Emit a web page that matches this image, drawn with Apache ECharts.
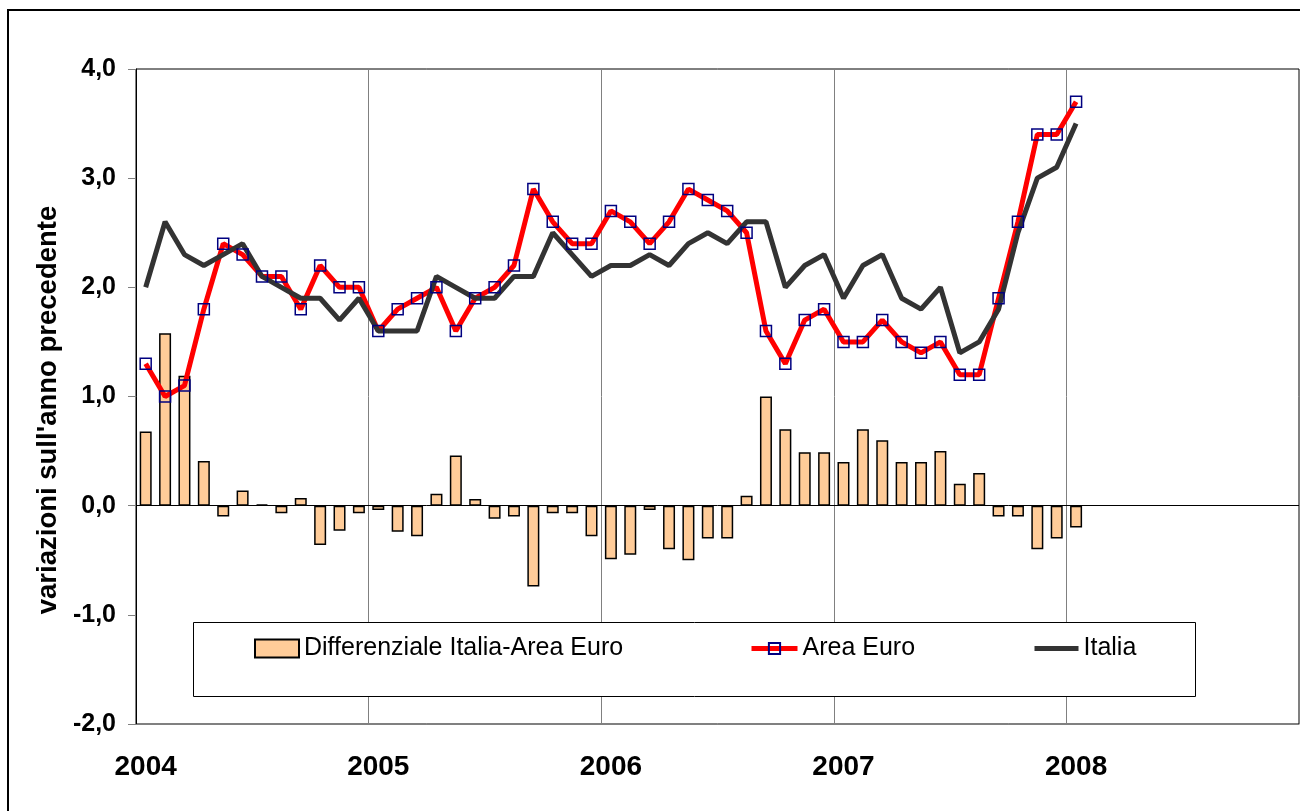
<!DOCTYPE html>
<html>
<head>
<meta charset="utf-8">
<script src="https://cdn.jsdelivr.net/npm/echarts@6/dist/echarts.min.js"></script>
<style>
  html, body { margin: 0; padding: 0; background: #fff; }
  #chart { width: 1300px; height: 811px; }
</style>
</head>
<body>
<div id="chart"></div>
<script>
var years = ['2004', '2005', '2006', '2007', '2008'];
// differenziale Italia - Area Euro
var differenziale = [0.68, 1.58, 1.19, 0.41, -0.10, 0.14, 0.01, -0.07, 0.07, -0.36, -0.23, -0.07,
    -0.04, -0.24, -0.28, 0.11, 0.46, 0.06, -0.12, -0.10, -0.74, -0.07, -0.07, -0.28,
    -0.49, -0.45, -0.04, -0.40, -0.50, -0.30, -0.30, 0.09, 1.00, 0.70, 0.49, 0.49,
    0.40, 0.70, 0.60, 0.40, 0.40, 0.50, 0.20, 0.30, -0.10, -0.10, -0.40, -0.30,
    -0.20];
var areaEuro = [1.3, 1.0, 1.1, 1.8, 2.4, 2.3, 2.1, 2.1, 1.8, 2.2, 2.0, 2.0,
    1.6, 1.8, 1.9, 2.0, 1.6, 1.9, 2.0, 2.2, 2.9, 2.6, 2.4, 2.4,
    2.7, 2.6, 2.4, 2.6, 2.9, 2.8, 2.7, 2.5, 1.6, 1.3, 1.7, 1.8,
    1.5, 1.5, 1.7, 1.5, 1.4, 1.5, 1.2, 1.2, 1.9, 2.6, 3.4, 3.4,
    3.7];
var italia = [2.0, 2.6, 2.3, 2.2, 2.3, 2.4, 2.1, 2.0, 1.9, 1.9, 1.7, 1.9,
    1.6, 1.6, 1.6, 2.1, 2.0, 1.9, 1.9, 2.1, 2.1, 2.5, 2.3, 2.1,
    2.2, 2.2, 2.3, 2.2, 2.4, 2.5, 2.4, 2.6, 2.6, 2.0, 2.2, 2.3,
    1.9, 2.2, 2.3, 1.9, 1.8, 2.0, 1.4, 1.5, 1.8, 2.5, 3.0, 3.1,
    3.5];

// mesi da gen 2004 a dic 2008
var months = [];
years.forEach(function (y) {
    for (var m = 1; m <= 12; m++) {
        months.push(y + '-' + (m < 10 ? '0' + m : m));
    }
});

var font = 'Liberation Sans, Arial, sans-serif';
var legendText = {fontSize: 25, color: '#000', fontFamily: font};

var myChart = echarts.init(document.getElementById('chart'));
myChart.setOption({
    animation: false,
    backgroundColor: '#fff',
    textStyle: {fontFamily: font},
    grid: {
        left: 136, top: 69, right: 1, bottom: 87,
        show: true, borderColor: '#000', borderWidth: 1
    },
    legend: [
        {
            left: 254, top: 636, padding: 0,
            itemWidth: 44, itemHeight: 18,
            textStyle: legendText,
            data: [{name: 'Differenziale Italia-Area Euro', icon: 'rect'}]
        },
        {
            left: 749, top: 636, padding: 0,
            itemWidth: 46, itemHeight: 14,
            textStyle: legendText,
            data: [{name: 'Area Euro', lineStyle: {width: 5, color: '#FF0000'}}]
        },
        {
            left: 1032, top: 636, padding: 0,
            itemWidth: 44, itemHeight: 14,
            textStyle: legendText,
            data: [{name: 'Italia', lineStyle: {width: 5, color: '#333333'}, itemStyle: {opacity: 0}}]
        }
    ],
    graphic: [
        {
            type: 'rect', z: 3,
            shape: {x: 193.5, y: 622.5, width: 1002, height: 74},
            style: {fill: '#fff', stroke: '#000', lineWidth: 1}
        },
        {
            type: 'rect', z: 3, silent: true,
            shape: {x: 8, y: 10, width: 1310, height: 830},
            style: {fill: 'none', stroke: '#000', lineWidth: 2}
        },
        {
            type: 'text',
            x: 48, y: 410,
            rotation: Math.PI / 2,
            style: {
                text: "variazioni sull'anno precedente",
                font: 'bold 27.5px ' + font,
                fill: '#000',
                textAlign: 'center',
                textVerticalAlign: 'middle'
            }
        }
    ],
    xAxis: {
        type: 'category',
        data: months,
        boundaryGap: true,
        axisLine: {onZero: false, lineStyle: {color: '#808080', width: 1}},
        axisTick: {show: false},
        axisLabel: {
            interval: 0,
            margin: 29,
            fontSize: 28,
            fontWeight: 'bold',
            color: '#000',
            formatter: function (v) {
                return v.slice(5) === '01' ? v.slice(0, 4) : '';
            }
        },
        splitLine: {
            show: true,
            interval: function (i) { return i > 0 && i % 12 === 0; },
            lineStyle: {color: '#808080', width: 1}
        }
    },
    yAxis: {
        type: 'value',
        min: -2, max: 4, interval: 1,
        axisLine: {show: true, lineStyle: {color: '#000', width: 1}},
        axisTick: {show: true, length: 8, lineStyle: {color: '#808080'}},
        axisLabel: {
            margin: 20,
            fontSize: 25,
            fontWeight: 'bold',
            color: '#000',
            formatter: function (v) { return v.toFixed(1).replace('.', ','); }
        },
        splitLine: {show: false}
    },
    series: [
        {
            name: 'Differenziale Italia-Area Euro',
            type: 'bar',
            data: differenziale,
            barWidth: 12,
            itemStyle: {color: '#FFCC99', borderColor: '#000', borderWidth: 1.5},
            markLine: {
                silent: true,
                symbol: 'none',
                label: {show: false},
                lineStyle: {color: '#000', width: 1, type: 'solid'},
                data: [{yAxis: 0}]
            }
        },
        {
            name: 'Area Euro',
            type: 'line',
            data: areaEuro,
            symbol: 'rect',
            symbolSize: 11,
            lineStyle: {color: '#FF0000', width: 5},
            itemStyle: {color: 'rgba(255,255,255,0)', borderColor: '#000080', borderWidth: 1.5}
        },
        {
            name: 'Italia',
            type: 'line',
            data: italia,
            symbol: 'none',
            lineStyle: {color: '#333333', width: 5},
            itemStyle: {color: '#333333'}
        }
    ]
});
</script>
</body>
</html>
